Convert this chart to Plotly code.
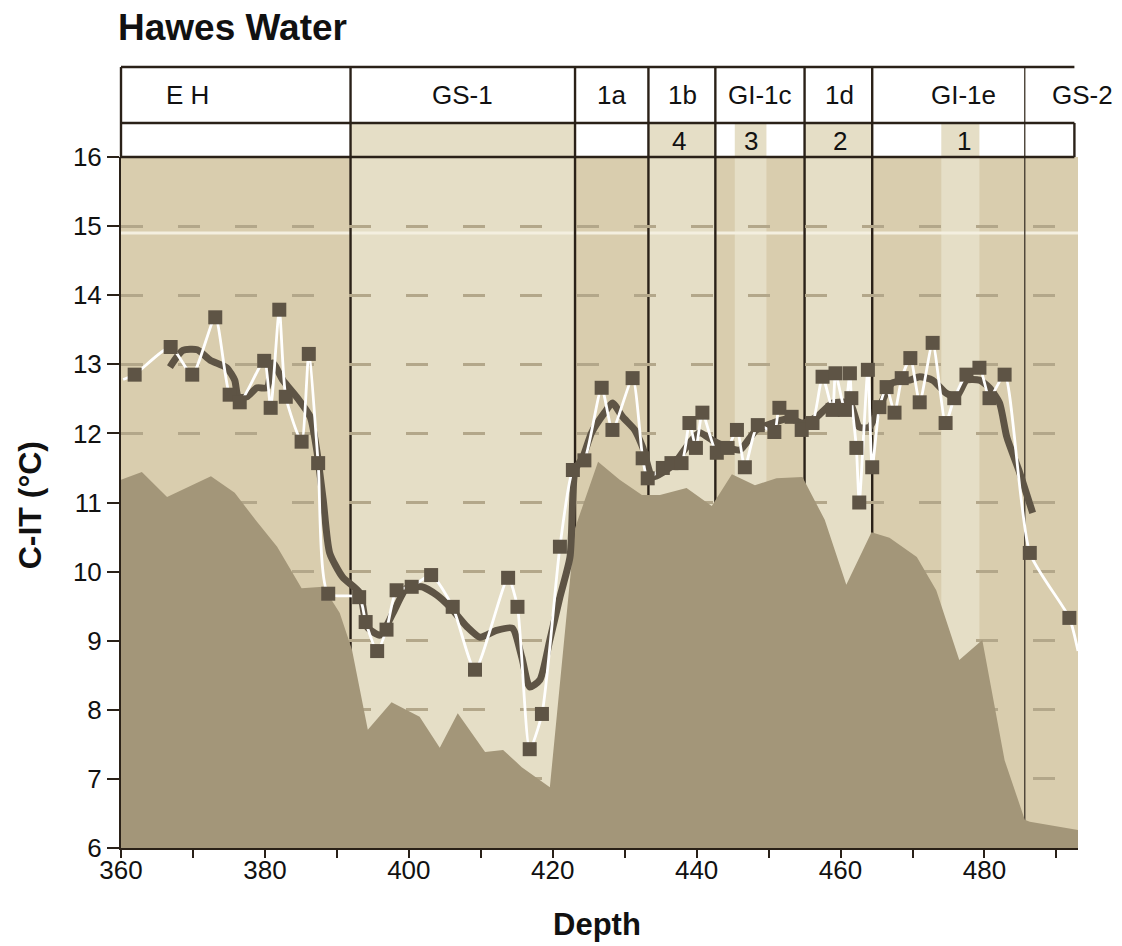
import plotly.graph_objects as go

# ---- data -------------------------------------------------------------
# Chironomid-inferred July temperature (C-IT) samples
sample_depth = [361.9, 366.9, 369.9, 373.1, 375.1, 376.5, 379.9, 380.8, 382.0, 382.9,
                385.1, 386.1, 387.4, 388.8, 393.1, 394.0, 395.6, 396.9, 398.3, 400.4,
                403.1, 406.1, 409.2, 413.8, 415.1, 416.8, 418.5, 421.0, 422.8, 424.4,
                426.8, 428.3, 431.1, 432.5, 433.2, 435.3, 436.5, 437.9, 439.0, 439.9,
                440.8, 442.8, 444.3, 445.6, 446.7, 448.5, 450.8, 451.5, 453.2, 454.6,
                456.1, 457.5, 458.9, 459.3, 460.6, 461.3, 461.5, 462.2, 462.6, 463.8,
                464.4, 465.4, 466.4, 467.5, 468.5, 469.7, 471.0, 472.8, 474.6, 475.8,
                477.5, 479.3, 480.7, 482.8, 486.3, 491.8]
sample_temp = [12.85, 13.25, 12.85, 13.68, 12.56, 12.45, 13.05, 12.37, 13.79, 12.53,
               11.88, 13.15, 11.57, 9.68, 9.63, 9.27, 8.85, 9.16, 9.73, 9.78,
               9.95, 9.49, 8.58, 9.91, 9.49, 7.43, 7.94, 10.36, 11.47, 11.61,
               12.66, 12.05, 12.80, 11.64, 11.35, 11.50, 11.57, 11.57, 12.15, 11.79,
               12.30, 11.72, 11.79, 12.05, 11.51, 12.12, 12.02, 12.37, 12.24, 12.05,
               12.15, 12.82, 12.34, 12.87, 12.34, 12.87, 12.51, 11.79, 11.00, 12.92,
               11.51, 12.38, 12.67, 12.30, 12.80, 13.09, 12.45, 13.31, 12.15, 12.51,
               12.85, 12.95, 12.51, 12.85, 10.27, 9.33]

# open ends of the sample trace beyond the first and last samples
trace_start = (360.3, 12.78)
trace_end = (493.0, 8.85)

# smoothed C-IT curve
smooth_depth = [366.8, 368.6, 370.6, 372.4, 374.7, 375.8, 376.3, 377.5, 378.9, 380.3,
                381.1, 382.5, 384.4, 386.3, 387.2, 388.1, 389.0, 390.8, 393.2, 394.2,
                396.0, 397.8, 399.7, 401.8, 403.9, 405.7, 408.1, 409.9, 412.2, 414.4,
                415.7, 416.8, 418.2, 419.6, 421.0, 422.4, 423.1, 424.2, 425.4, 427.2,
                428.3, 429.7, 431.4, 432.5, 433.9, 436.7, 439.0, 440.4, 442.2, 444.2,
                446.0, 448.3, 450.6, 452.9, 454.7, 456.7, 458.9, 461.3, 462.6, 464.0,
                465.4, 467.2, 469.6, 471.0, 472.8, 474.7, 476.1, 477.5, 479.3, 480.7,
                482.1, 483.1, 484.9, 486.7]
smooth_temp = [12.96, 13.20, 13.21, 13.06, 12.95, 12.77, 12.53, 12.53, 12.66, 12.66,
               13.02, 12.77, 12.53, 12.24, 11.76, 11.04, 10.27, 9.92, 9.69, 9.20,
               9.08, 9.40, 9.76, 9.78, 9.66, 9.49, 9.20, 9.05, 9.15, 9.18,
               8.76, 8.33, 8.43, 9.01, 9.63, 10.21, 11.47, 11.66, 12.01, 12.30,
               12.44, 12.24, 12.05, 11.80, 11.37, 11.54, 11.86, 12.01, 11.90, 11.80,
               11.76, 12.05, 12.15, 12.22, 12.15, 12.24, 12.44, 12.44, 12.09, 12.09,
               12.38, 12.73, 12.77, 12.82, 12.77, 12.58, 12.53, 12.77, 12.77, 12.66,
               12.44, 11.95, 11.43, 10.85]

# lower envelope (shaded profile)
profile_depth = [360.0, 362.9, 366.4, 372.5, 375.8, 378.9, 381.7, 385.1, 388.1, 390.4,
                 392.1, 394.3, 397.6, 401.5, 404.3, 406.8, 410.6, 413.1, 415.7, 419.6,
                 423.1, 426.3, 429.3, 432.4, 434.9, 438.6, 442.1, 444.9, 448.1, 451.1,
                 454.7, 457.8, 460.8, 464.3, 466.8, 470.6, 473.3, 476.5, 479.7, 482.8,
                 485.6, 486.3, 493.0]
profile_temp = [11.33, 11.44, 11.08, 11.38, 11.14, 10.72, 10.36, 9.76, 9.78, 9.40,
                8.87, 7.71, 8.11, 7.90, 7.45, 7.95, 7.39, 7.42, 7.17, 6.88,
                10.63, 11.59, 11.33, 11.11, 11.11, 11.21, 10.95, 11.41, 11.25, 11.35,
                11.37, 10.75, 9.81, 10.57, 10.49, 10.21, 9.73, 8.72, 9.01, 7.27,
                6.41, 6.38, 6.26]

# event stratigraphy
zone_bounds = [391.9, 423.1, 433.3, 442.6, 455.0, 464.4]
gs2_bound = 485.6
zone_labels = ["E H", "GS-1", "1a", "1b", "GI-1c", "1d", "GI-1e", "GS-2"]
zone_label_depth = [369.3, 407.5, 428.1, 438.1, 448.75, 459.9, 477.1, 493.6]
# light (oscillation) bands and their numbers
bands = [(391.9, 423.1), (433.3, 442.6), (445.3, 449.7), (455.0, 464.4), (474.0, 479.3)]
band_numbers = ["4", "3", "2", "1"]
band_number_depth = [437.6, 447.6, 459.9, 477.1]
reference_level = 14.9

X_RANGE = [360, 493]
Y_RANGE = [6, 16]

# ---- styling ----------------------------------------------------------
DARK_BG = "#d9cdae"
LIGHT_BG = "#e5dec6"
PROFILE = "#a39679"
INK = "#5e5445"
LINE = "#2a2118"
FONT = "Liberation Sans, Arial, sans-serif"

ROW1_TOP = 1.1302
ROW_MID = 1.0492

def px(d):
    """depth -> paper fraction along x"""
    return (d - X_RANGE[0]) / (X_RANGE[1] - X_RANGE[0])

fig = go.Figure()

fig.add_trace(go.Scatter(x=profile_depth, y=profile_temp, mode="lines",
                         line=dict(width=0, color=PROFILE), fill="tozeroy",
                         fillcolor=PROFILE, hoverinfo="skip"))
fig.add_trace(go.Scatter(x=smooth_depth, y=smooth_temp, mode="lines",
                         line=dict(width=7, color=INK, shape="spline", smoothing=0.6)))
fig.add_trace(go.Scatter(x=[trace_start[0]] + sample_depth + [trace_end[0]],
                         y=[trace_start[1]] + sample_temp + [trace_end[1]],
                         mode="lines",
                         line=dict(width=2.8, color="white", shape="spline", smoothing=0.6)))
fig.add_trace(go.Scatter(x=sample_depth, y=sample_temp, mode="markers",
                         marker=dict(symbol="square", size=14, color=INK, line=dict(width=0))))

shapes = []
# light bands inside plot and in the lower header row
for a, b in bands:
    shapes.append(dict(type="rect", xref="x", yref="paper", x0=a, x1=b, y0=0, y1=1,
                       fillcolor=LIGHT_BG, line=dict(width=0), layer="below"))
    shapes.append(dict(type="rect", xref="x", yref="paper", x0=a, x1=b, y0=1, y1=ROW_MID,
                       fillcolor=LIGHT_BG, line=dict(width=0), layer="below"))
# reference level line
shapes.append(dict(type="line", xref="paper", yref="y", x0=0, x1=1,
                   y0=reference_level, y1=reference_level,
                   line=dict(color="#f4efe0", width=3), layer="between"))
# zone boundaries
for d in zone_bounds:
    shapes.append(dict(type="line", xref="x", yref="paper", x0=d, x1=d, y0=0, y1=ROW1_TOP,
                       line=dict(color=LINE, width=2.4), layer="between"))
shapes.append(dict(type="line", xref="x", yref="paper", x0=gs2_bound, x1=gs2_bound,
                   y0=0, y1=ROW1_TOP, line=dict(color="#4a4236", width=1.4), layer="between"))
# header grid
right = px(492.5)
for yy in (ROW1_TOP, ROW_MID, 1.0):
    shapes.append(dict(type="line", xref="paper", yref="paper", x0=0, x1=right, y0=yy, y1=yy,
                       line=dict(color=LINE, width=2.4)))
shapes.append(dict(type="line", xref="paper", yref="paper", x0=0, x1=0, y0=1.0, y1=ROW1_TOP,
                   line=dict(color=LINE, width=2.4)))
shapes.append(dict(type="line", xref="paper", yref="paper", x0=right, x1=right, y0=1.0, y1=ROW_MID,
                   line=dict(color=LINE, width=2.4)))

annotations = []
for lab, d in zip(zone_labels, zone_label_depth):
    annotations.append(dict(text=lab, xref="paper", yref="paper", x=px(d), y=1.0897,
                            showarrow=False, xanchor="center", yanchor="middle",
                            font=dict(family=FONT, size=26, color="#111111")))
for lab, d in zip(band_numbers, band_number_depth):
    annotations.append(dict(text=lab, xref="paper", yref="paper", x=px(d), y=1.0232,
                            showarrow=False, xanchor="center", yanchor="middle",
                            font=dict(family=FONT, size=26, color="#111111")))
annotations.append(dict(text="<b>Hawes Water</b>", xref="paper", yref="paper", x=-0.005, y=1.187,
                        showarrow=False, xanchor="left", yanchor="middle",
                        font=dict(family=FONT, size=37, color="#111111")))
annotations.append(dict(text="<b>C-IT (°C)</b>", xref="paper", yref="paper", x=-0.095, y=0.496,
                        showarrow=False, xanchor="center", yanchor="middle", textangle=-90,
                        font=dict(family=FONT, size=32, color="#111111")))
annotations.append(dict(text="<b>Depth</b>", xref="paper", yref="paper", x=0.497, y=-0.110,
                        showarrow=False, xanchor="center", yanchor="middle",
                        font=dict(family=FONT, size=31, color="#111111")))

fig.update_layout(
    width=1122, height=946,
    margin=dict(l=121, r=44, t=157, b=98),
    paper_bgcolor="white", plot_bgcolor=DARK_BG,
    showlegend=False,
    shapes=shapes, annotations=annotations,
    font=dict(family=FONT, size=26, color="#111111"),
)
fig.update_xaxes(range=X_RANGE, dtick=20, tick0=360, ticks="outside", ticklen=8,
                 tickwidth=2, tickcolor=LINE, showline=True, linecolor=LINE, linewidth=2,
                 showgrid=False, zeroline=False, ticklabelstandoff=-10,
                 minor=dict(dtick=10, tick0=360, ticks="outside", ticklen=8,
                            tickwidth=2, tickcolor=LINE, showgrid=False),
                 tickfont=dict(family=FONT, size=26, color="#111111"))
fig.update_yaxes(range=Y_RANGE, dtick=1, ticks="outside", ticklen=12, tickwidth=2,
                 tickcolor=LINE, showline=True, linecolor=LINE, linewidth=2,
                 showgrid=True, gridcolor="#b3a78a", gridwidth=3, griddash="22px,35px",
                 zeroline=False,
                 tickfont=dict(family=FONT, size=26, color="#111111"))

fig.write_html("out.html")
